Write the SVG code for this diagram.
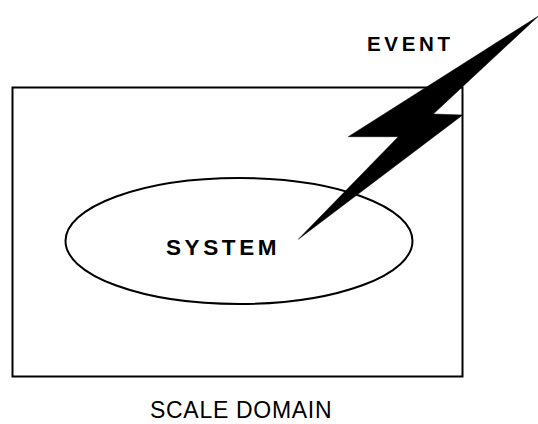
<svg xmlns="http://www.w3.org/2000/svg" width="538" height="424" viewBox="0 0 538 424">
<style>
.shape{fill:none;stroke:#000;stroke-width:2}
.lbl{font-family:"Liberation Sans",Arial,sans-serif;fill:#000}
.b{font-weight:bold}
</style>
<rect x="0" y="0" width="538" height="424" fill="#fff"/>
<g id="domain">
<rect class="shape" x="12.5" y="87.5" width="450" height="289"/>
<text class="lbl" x="150" y="418" font-size="23" letter-spacing="0.7">SCALE DOMAIN</text>
</g>
<g id="system">
<ellipse class="shape" cx="239" cy="241" rx="173.5" ry="63"/>
<text class="lbl b" x="166" y="254.5" font-size="22.5" letter-spacing="3.6">SYSTEM</text>
</g>
<g id="event">
<text class="lbl b" x="367" y="50.8" font-size="20.5" letter-spacing="3.7">EVENT</text>
</g>
<g id="connectors">
<polygon points="538.5,16 348.3,136.7 398.3,136.7 298.3,239.3 462.7,115 433.3,114" fill="#000" stroke="#000" stroke-width="0.5" stroke-linejoin="miter"/>
</g>
</svg>
